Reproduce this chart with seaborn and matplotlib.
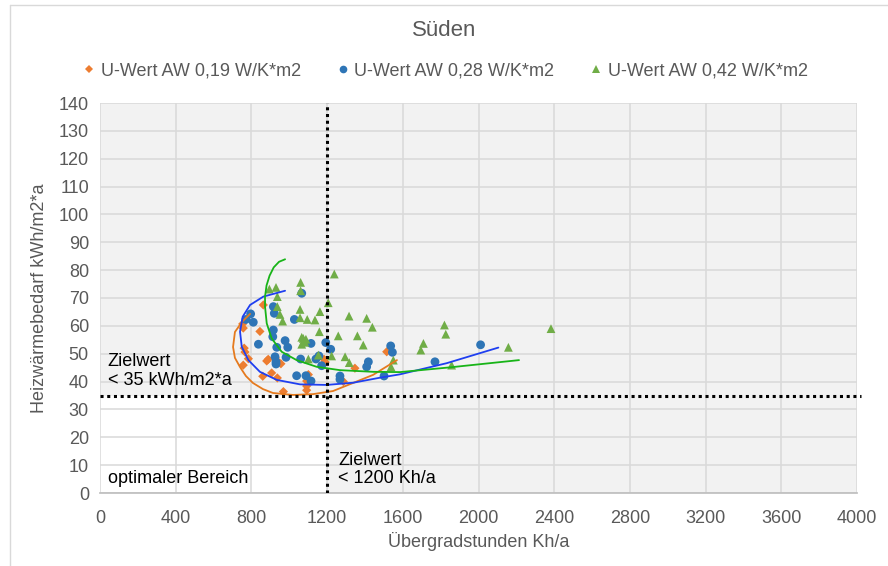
import matplotlib
matplotlib.use("Agg")
import matplotlib.pyplot as plt
from matplotlib.lines import Line2D
from matplotlib.patches import Rectangle
import numpy as np
import pandas as pd
import seaborn as sns

# --- data ---
LABEL_19 = "U-Wert AW 0,19 W/K*m2"
LABEL_28 = "U-Wert AW 0,28 W/K*m2"
LABEL_42 = "U-Wert AW 0,42 W/K*m2"

x_019 = [863, 754, 757, 845, 762, 766, 784, 757, 889, 881, 925, 937, 956, 907, 860,
         937, 1101, 1092, 1092, 1092, 969, 1184, 1190, 1347, 1286, 1515]
y_019 = [67.5, 60.7, 59.2, 58.0, 52.0, 50.6, 48.2, 45.9, 48.0, 47.4, 48.6, 47.4, 46.4, 43.1, 41.9,
         41.3, 42.5, 40.2, 38.4, 36.9, 36.4, 48.0, 47.0, 44.8, 40.0, 50.7]

x_028 = [1066, 796, 771, 810, 916, 921, 1027, 916, 913, 978, 934, 992, 837, 983, 925,
         930, 930, 1060, 1115, 1141, 1157, 1193, 1219, 1171, 1039, 1088, 1115, 1268, 1268,
         1418, 1409, 1501, 1536, 1545, 1770, 2011]
y_028 = [71.7, 64.3, 62.3, 61.3, 66.9, 64.5, 62.3, 58.5, 56.1, 54.7, 52.3, 52.3, 53.4, 48.7, 48.9,
         47.1, 46.3, 48.1, 53.7, 48.1, 49.2, 54.0, 51.6, 45.7, 42.1, 42.1, 40.2, 42.0, 40.8,
         47.1, 45.3, 42.0, 52.8, 50.5, 47.1, 53.2]

x_042 = [1238, 895, 930, 1060, 1060, 937, 1206, 937, 951, 1057, 1057, 1095, 1162, 965,
         1316, 1409, 1439, 1159, 1066, 1088, 1066, 1259, 1360, 1391, 1101, 1154, 1224, 1295,
         1317, 1538, 1550, 1820, 1827, 1709, 1695, 2158, 2383, 1858, 1136, 1074, 1083]
y_042 = [78.6, 73.2, 73.8, 75.6, 72.6, 70.5, 68.3, 66.9, 64.1, 65.9, 62.9, 62.3, 65.1, 61.7,
         63.5, 62.7, 59.5, 57.9, 55.9, 55.2, 53.4, 56.4, 56.4, 53.1, 48.1, 49.5, 49.2, 48.9,
         46.8, 45.3, 47.7, 60.3, 57.0, 53.7, 51.3, 52.3, 59.0, 45.9, 62.1, 55.5, 54.1]

# trend curves (as drawn in the reference)
trend_x_019 = [793, 750, 713, 703, 713, 740, 771, 808, 861, 914, 1020, 1126, 1231, 1337, 1443, 1569]
trend_y_019 = [64.3, 61.4, 57.8, 52.4, 48.5, 45.2, 42.0, 39.5, 37.3, 35.9, 35.2, 35.5, 36.6, 39.5, 42.4, 47.7]

trend_x_028 = [978, 863, 793, 754, 740, 749, 784, 845, 934, 1057, 1198, 1339, 1480, 1585, 1832, 2105]
trend_y_028 = [72.6, 70.5, 67.5, 63.3, 57.9, 52.5, 47.7, 43.5, 40.6, 39.0, 38.8, 39.6, 41.4, 42.6, 46.6, 52.2]

trend_x_042 = [978, 946, 918, 896, 880, 872, 872, 881, 907, 960, 1039, 1145, 1268, 1444, 1585, 1849, 2214]
trend_y_042 = [83.9, 83.0, 81.0, 78.0, 74.5, 70.5, 66.9, 60.9, 55.5, 50.7, 47.7, 45.3, 44.1, 43.5, 43.4, 45.1, 47.7]

target_x = 1200
target_y = 35
x_ticks = [0, 400, 800, 1200, 1600, 2000, 2400, 2800, 3200, 3600, 4000]
y_ticks = list(range(0, 141, 10))

# --- build tables ---
points = pd.concat([
    pd.DataFrame({"x": x_019, "y": y_019, "serie": LABEL_19}),
    pd.DataFrame({"x": x_028, "y": y_028, "serie": LABEL_28}),
    pd.DataFrame({"x": x_042, "y": y_042, "serie": LABEL_42}),
], ignore_index=True)

trends = pd.concat([
    pd.DataFrame({"x": trend_x_019, "y": trend_y_019, "serie": LABEL_19}),
    pd.DataFrame({"x": trend_x_028, "y": trend_y_028, "serie": LABEL_28}),
    pd.DataFrame({"x": trend_x_042, "y": trend_y_042, "serie": LABEL_42}),
], ignore_index=True)

marker_colors = {LABEL_19: "#ED7D31", LABEL_28: "#2E75B6", LABEL_42: "#70AD47"}
line_colors = {LABEL_19: "#E57A1E", LABEL_28: "#1F3FF0", LABEL_42: "#18B418"}
markers = {LABEL_19: "D", LABEL_28: "o", LABEL_42: "^"}
sizes = {LABEL_19: 22, LABEL_28: 40, LABEL_42: 40}

sns.set_theme(style="white")
plt.rcParams["font.family"] = ["Liberation Sans", "DejaVu Sans"]

fig = plt.figure(figsize=(8.88, 5.66), dpi=100)
ax = fig.add_axes([100 / 888, 73 / 566, 757 / 888, 390 / 566])
ax.set_facecolor("#F2F2F2")

# white "optimal" area
ax.add_patch(Rectangle((0, 0), target_x, target_y, facecolor="white", edgecolor="none", zorder=0.5))

ax.set_xlim(0, 4000)
ax.set_ylim(0, 140)
ax.set_xticks(x_ticks)
ax.set_yticks(y_ticks)
ax.grid(True, color="#D9D9D9", linewidth=1.1, zorder=0.6)
ax.set_axisbelow(True)
for side in ["top", "right", "left"]:
    ax.spines[side].set_visible(False)
ax.spines["bottom"].set_color("#BFBFBF")
ax.tick_params(axis="x", colors="#595959", labelsize=13, length=0, pad=12)
ax.tick_params(axis="y", colors="#595959", labelsize=13, length=0, pad=8)

for serie in [LABEL_19, LABEL_28, LABEL_42]:
    sub = points[points["serie"] == serie]
    sns.scatterplot(data=sub, x="x", y="y", ax=ax, color=marker_colors[serie],
                    marker=markers[serie], s=sizes[serie], edgecolor="none",
                    legend=False, zorder=3)

for serie in [LABEL_19, LABEL_28, LABEL_42]:
    sub = trends[trends["serie"] == serie]
    sns.lineplot(data=sub, x="x", y="y", ax=ax, sort=False, estimator=None,
                 color=line_colors[serie], linewidth=1.3, legend=False, zorder=4)

# target lines
ax.plot([target_x, target_x], [0, 140], color="black", linewidth=2.2,
        linestyle=(0, (1, 1.2)), zorder=5)
ax.plot([0, 4020], [target_y, target_y], color="black", linewidth=2.2,
        linestyle=(0, (1, 1.2)), zorder=5, clip_on=False)

ax.text(40, 37.5, "Zielwert\n< 35 kWh/m2*a", fontsize=13, color="black",
        va="bottom", ha="left", linespacing=1.1, zorder=6)
ax.text(1260, 2.0, "Zielwert\n< 1200 Kh/a", fontsize=13, color="black",
        va="bottom", ha="left", linespacing=1.1, zorder=6)
ax.text(40, 2.0, "optimaler Bereich", fontsize=13, color="black",
        va="bottom", ha="left", zorder=6)

ax.set_xlabel("Übergradstunden Kh/a", fontsize=13, color="#595959", labelpad=4)
ax.set_ylabel("Heizwärmebedarf kWh/m2*a", fontsize=13, color="#595959", labelpad=8)

fig.text(0.5, 1 - 31 / 566, "Süden", fontsize=16, color="#595959", ha="center", va="center")

handles = [
    Line2D([], [], linestyle="none", marker=markers[s], color=marker_colors[s],
           markersize=4.5 if s == LABEL_19 else 5.5, markeredgewidth=0)
    for s in [LABEL_19, LABEL_28, LABEL_42]
]
fig.legend(handles, [LABEL_19, LABEL_28, LABEL_42], loc="center",
           bbox_to_anchor=(0.5, 1 - 71 / 566), ncol=3, frameon=False,
           fontsize=13, labelcolor="#595959", handletextpad=0.15,
           columnspacing=1.8, handlelength=1.0)

# chart-area border (top and left visible in reference)
fig.add_artist(Line2D([10 / 888, 1], [1 - 5 / 566, 1 - 5 / 566], color="#D9D9D9", linewidth=1))
fig.add_artist(Line2D([10 / 888, 10 / 888], [0, 1 - 5 / 566], color="#D9D9D9", linewidth=1))

fig.savefig("out.png", dpi=100)
